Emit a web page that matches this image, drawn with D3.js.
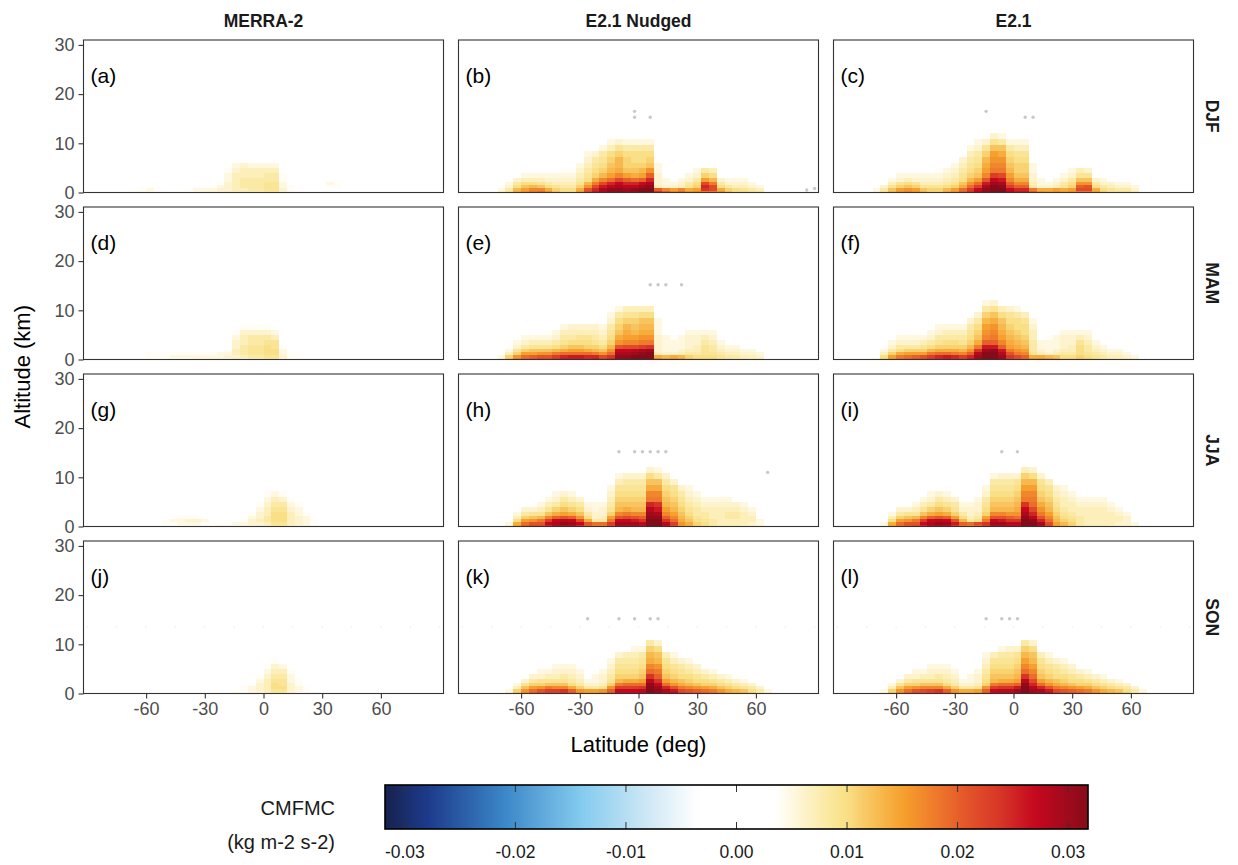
<!DOCTYPE html>
<html>
<head>
<meta charset="utf-8">
<script src="https://cdn.jsdelivr.net/npm/d3@7"></script>
<style>
  body { margin: 0; background: #fff; }
  svg { display: block; }
  text { font-family: "Liberation Sans", Arial, Helvetica, sans-serif; }
</style>
</head>
<body>
<svg id="chart" width="1238" height="865"></svg>
<script>
// ---- Facets ----
const models = ["MERRA-2", "E2.1 Nudged", "E2.1"];
const seasons = ["DJF", "MAM", "JJA", "SON"];
const panelTags = ["(a)", "(b)", "(c)", "(d)", "(e)", "(f)", "(g)", "(h)", "(i)", "(j)", "(k)", "(l)"];

// ---- Grid: 4-degree latitude bands (centres) and altitude level edges (km) ----
const latCenters = [-70, -66, -62, -58, -54, -50, -46, -42, -38, -34, -30, -26, -22, -18, -14, -10, -6, -2,
                    2, 6, 10, 14, 18, 22, 26, 30, 34, 38, 42, 46, 50, 54, 58, 62, 66];
const levelEdges = [0, 0.4, 0.9, 1.5, 2.2, 3.0, 3.9, 4.9, 6.0, 7.2, 8.4, 9.6, 10.8, 12.0];

// ---- Axis ticks ----
const latTicks = [-60, -30, 0, 30, 60];
const altTicks = [0, 10, 20, 30];
const legendTicks = [-0.03, -0.02, -0.01, 0.00, 0.01, 0.02, 0.03];

// ---- CMFMC, units of 1e-3; one column per latitude centre, values from the lowest level upward ----
const merraDJF = [
  [], [4], [4,4], [4,5], [4], [], [], [], [0,4], [4,5], [5,5], [5,5,4], [5,6,5,4], [6,6,6,6,5,5,4],
  [6,7,7,7,7,7,6,5], [7,7,8,8,8,7,7,6], [7,8,8,8,8,7,7,5], [7,8,8,8,8,7,7,5],
  [8,9,9,9,8,8,7,5], [8,9,9,9,8,8,7,5], [5,6,5,5,4,4], [4,4,4], [4], [], [], [],
  [0,0,4,5], [0,0,4,4], [], [], [], [], [], [], []
];
const nudgedDJF = [
  [6,5], [9,8,6,5], [14,13,10,8,6], [16,15,12,10,7,5], [18,17,13,10,7,5], [19,17,12,9,7,5],
  [16,14,10,8,6,5], [12,11,9,7,6,5], [10,10,8,7,6,5,4], [10,10,8,7,6,5,4], [15,14,11,9,8,7,6,5],
  [22,21,16,13,10,9,8,7,6,5], [26,25,22,18,14,11,10,9,8,6], [29,29,26,22,17,13,11,10,9,8,5],
  [31,31,28,25,19,15,13,12,11,10,7,5], [31,31,29,27,22,17,14,13,13,11,9,6],
  [30,30,28,25,20,15,12,11,11,10,8,5], [31,31,28,25,19,14,12,11,10,10,8,5],
  [32,32,30,27,20,15,13,11,10,10,8,5], [32,32,31,29,25,20,16,12,11,10,8,5],
  [24,20,7,6,6,6,5,5], [20,17,6,5,5], [17,15,6,5], [19,17,7,6,5], [16,14,9,8,6,5],
  [17,15,11,10,8,6,5], [18,24,25,22,15,11,8], [18,22,22,18,13,10,7], [16,14,10,8,6],
  [12,11,8,6,5], [10,10,7,6,5], [10,9,7,6,5], [9,8,6,5], [8,7,5], []
];
const modelDJF = [
  [5,5], [9,8,6], [13,12,9,7,5], [16,15,11,9,6,5], [17,16,12,10,7,5], [16,15,11,9,6,5],
  [13,12,9,7,6,5], [11,11,9,7,6,5], [11,11,9,7,6,5,4], [14,13,10,8,7,6,5], [16,15,11,9,8,7,6,5],
  [20,19,14,12,10,9,8,7,6], [24,23,19,16,13,11,10,9,8,7,5], [28,27,23,19,15,12,11,10,9,8,6,5],
  [31,31,29,26,21,17,15,14,13,11,9,6], [32,32,32,30,27,23,18,17,16,15,12,9,6],
  [32,32,31,29,26,22,18,17,16,14,12,8,5], [28,27,23,20,17,15,13,12,11,10,8,5],
  [26,25,20,17,14,12,11,11,10,9,7,5], [26,25,20,17,14,12,11,11,10,9,7,5],
  [20,18,8,7,6,6,5,5], [16,14,6,5,5], [15,14,6,5], [16,15,7,6,5], [15,14,9,8,6,5],
  [16,15,11,10,8,6,5], [18,22,20,16,12,9,7], [18,22,21,16,12,9,6], [15,14,10,8,6],
  [11,10,8,6,5], [9,9,7,6], [9,8,6,5], [9,8,6,5], [7,6,5], []
];

const merraMAM = [
  [], [], [4], [4,4,4], [4,4,4], [4,4,4], [4,5,4], [4,5,4], [4,5,4], [5,5,4], [5,5,4], [5,5,4],
  [5,5,5], [5,6,5,4], [6,6,7,7,6,6,5,4], [6,7,8,8,8,7,7,6,4], [7,8,9,9,9,8,8,6,4],
  [7,8,9,9,9,8,8,6,4], [8,9,10,10,10,9,8,6,4], [8,9,10,10,9,9,7,5], [5,6,5,5,4],
  [4,4,4], [4,4], [], [], [], [], [], [], [], [], [], [], [], []
];
const nudgedMAM = [
  [6,5], [12,11,7,5], [17,16,11,9,6,5], [20,19,15,11,8,6,5], [21,20,15,12,9,7,5], [22,21,16,12,9,7,5],
  [22,21,16,12,9,7,5,4], [24,23,18,13,10,8,6,5], [26,25,19,14,11,9,8,7,5], [26,26,19,15,12,10,8,7,6],
  [26,26,19,15,12,10,9,7,6], [25,25,19,14,11,10,9,7,6], [26,25,18,13,11,9,8,7,6], [23,22,16,12,10,8,7,6,5],
  [25,24,19,16,13,11,10,9,8,6,5], [31,31,29,27,21,16,14,12,11,10,8,5], [31,31,29,27,22,17,15,14,13,11,9,7],
  [32,32,30,28,22,17,15,13,12,11,9,7], [32,32,31,29,23,18,16,14,13,12,10,7], [32,32,32,30,24,18,16,14,13,12,10,7],
  [17,14,7,6,6,6,6,5,5,5], [15,13,6,5,5,5,5], [16,14,6,5,5,5,4], [15,13,7,6,5,5,5], [12,11,8,7,6,6,6,5],
  [11,10,8,7,7,6,6,5], [11,10,9,9,9,8,7,5], [11,10,9,8,8,7,6,5], [10,9,8,7,6,5], [9,8,7,6,5],
  [8,8,7,6,5], [8,7,6,5], [7,7,6,5], [7,6,5], []
];
const modelMAM = [
  [5], [11,10,7,5], [16,15,11,8,6,5], [19,18,14,10,8,6,5], [20,19,15,11,8,6,5], [21,20,15,11,8,6,5],
  [22,21,15,11,9,7,5], [24,23,18,13,10,8,6,5], [25,25,19,14,11,9,8,6,5], [26,26,19,14,11,10,8,7,5],
  [25,25,18,14,11,10,8,7,5], [23,23,17,13,11,9,8,7,5], [26,25,20,16,13,11,10,9,8,6], [30,30,28,24,18,14,12,11,10,8,6],
  [32,32,32,30,26,20,17,16,15,13,11,8,5], [32,32,32,31,26,20,18,17,16,14,12,9,6], [30,30,28,26,20,17,15,14,13,12,10,7],
  [24,24,21,18,15,14,13,12,11,10,9,6], [22,22,18,16,14,13,12,11,10,10,8,5], [20,20,17,15,13,12,11,10,10,9,7],
  [16,14,9,8,8,8,7,7,6,5], [16,14,7,6,5,5], [15,13,6,5,5,5,4], [14,12,7,6,5,5,5], [11,10,8,7,6,6,6,5],
  [11,10,8,7,7,6,6,5], [12,11,10,10,10,9,7,5], [11,10,9,8,8,7,6,5], [10,9,8,7,6,5], [8,8,7,6,5],
  [8,7,6,5], [7,7,6,5], [7,6,5], [6,5], []
];

const merraJJA = [
  [], [], [], [], [], [0,4,4], [0,4,5], [0,5,5,4], [0,5,6,4], [0,5,6,4], [0,4,5], [0,4],
  [4,4], [4,4], [4,5], [5,5,4], [5,6,6,5,4], [6,6,7,6,6,5,4], [6,7,8,8,7,7,6,5,4],
  [8,9,10,10,10,9,8,7,5], [8,9,10,10,10,9,8,6,4], [6,7,7,7,7,6,5,4], [5,6,6,6,5,5,4],
  [5,5,5,5,4], [4,4,4], [], [], [], [], [], [], [], [], [], []
];
const nudgedJJA = [
  [], [6,5], [15,14,10,7,5], [20,19,15,11,8,6], [22,21,16,12,9,6], [22,21,18,13,9,7,5],
  [25,27,23,17,12,9,7,5], [27,29,27,20,14,11,8,6,5], [28,31,28,21,15,12,10,8,6], [27,30,27,20,14,11,9,7,5],
  [25,27,22,16,12,10,8,6], [20,21,14,10,8,6,5], [18,19,8,6,6,5,5], [18,19,8,7,6,6,5],
  [22,23,18,15,11,9,8,7,6,5], [28,30,27,21,17,13,12,11,10,9,7,5], [28,30,27,22,18,14,12,11,10,9,8,6],
  [28,30,26,21,17,13,12,11,10,9,8,6], [27,28,24,20,17,13,12,11,10,9,8,6],
  [32,32,32,31,30,28,25,18,17,14,12,10,6], [32,32,32,31,29,26,24,18,17,14,12,8,5],
  [27,28,24,20,17,15,13,12,11,10,8,6], [22,23,19,17,15,13,12,11,10,9,6], [16,16,14,13,12,11,10,9,8,6],
  [14,14,12,11,10,9,8,7,6,5], [11,11,10,9,8,8,7,6,5], [10,10,9,8,8,7,6,5], [8,8,8,7,7,7,6,5],
  [7,7,7,7,7,7,6,5], [7,7,7,8,8,7,6,5], [7,7,7,8,8,7,6], [6,7,7,7,7,6,5], [6,6,7,7,6,5], [5,5,5], []
];
const modelJJA = [
  [], [5,5], [15,14,10,7,5], [19,19,15,11,8,6], [21,21,16,12,9,6], [22,21,18,13,9,7,5],
  [25,27,23,17,12,9,7,5], [27,29,27,20,14,11,8,6,5], [28,31,28,21,15,12,10,8,6], [27,30,27,20,14,11,9,7,5],
  [24,26,21,15,11,9,8,6], [19,20,13,10,8,6,5], [18,19,8,7,6,6,5], [20,22,10,8,7,6,6,5],
  [23,24,18,15,11,10,9,8,6,5], [28,30,27,21,17,13,12,11,10,9,8,5], [28,30,26,21,17,13,12,11,10,9,8,6],
  [27,28,24,20,16,13,12,11,10,9,8,6], [27,28,24,19,16,14,13,12,11,10,9,6],
  [32,32,32,31,29,27,24,18,17,15,13,11,7], [31,32,31,28,25,22,19,18,17,15,13,10,6],
  [28,29,25,21,18,16,14,12,11,10,9,6], [22,22,19,17,15,13,12,11,10,9,7], [15,15,13,12,11,10,9,8,7,6],
  [13,13,11,10,9,8,7,7,6,5], [11,11,10,9,8,7,7,6,5], [8,8,8,8,7,7,6,5], [7,7,7,7,7,7,6,5],
  [7,7,7,7,7,7,6,5], [7,7,7,7,7,7,6,5], [6,7,7,7,7,6,5], [6,6,7,7,6,5], [6,6,6,6,5], [5,5], []
];

const merraSON = [
  [], [], [], [], [], [], [], [], [], [], [], [], [], [],
  [4,4], [4,4,4], [5,5,5,4], [5,6,6,6,5,4], [6,7,7,7,7,6,5,4], [8,9,10,10,9,8,7,6,4],
  [8,9,10,9,9,8,7,5], [5,6,6,6,5,5,4], [4,5,5,4,4], [4,4,4], [4], [], [], [], [], [], [], [], [], [], []
];
const nudgedSON = [
  [], [6,5], [12,11,7,5], [17,16,12,9,6], [20,19,15,11,8,6], [22,21,16,11,9,6,5], [23,23,18,12,9,7,5],
  [23,23,17,12,9,7,6,5], [24,24,17,12,9,8,6,5], [21,20,14,10,8,7,6,5], [17,16,11,8,7,6,5], [16,15,8,6,5],
  [16,15,8,6,5,5], [17,16,9,7,6,6,5], [21,20,16,11,9,8,7,6,5], [27,27,23,18,13,11,10,9,8,6],
  [27,27,23,19,14,11,10,9,8,7], [27,27,23,19,14,11,10,9,8,7,5], [28,28,24,19,15,12,11,10,9,8,5],
  [32,32,32,31,28,24,19,17,14,13,11,8], [31,31,30,27,24,20,18,16,13,12,10,6], [29,29,25,19,15,12,11,10,9,7],
  [27,26,21,16,13,11,10,9,7,5], [23,22,18,14,12,10,9,8,6], [22,21,17,13,11,10,8,7,5], [21,20,16,12,10,9,7,6],
  [20,19,15,11,10,8,6], [19,18,14,11,9,7,5], [17,16,12,10,8,6], [15,14,11,9,7,5], [14,13,10,8,6],
  [13,12,9,7,5], [11,10,8,6], [8,8,6], [6,5]
];
const modelSON = [
  [], [5,5], [12,11,7,5], [17,16,12,9,6], [20,19,15,11,8,6], [22,21,16,11,9,6,5], [22,22,17,12,9,7,5],
  [23,23,17,12,9,7,6,5], [24,24,17,12,9,8,6,5], [21,20,14,10,8,7,6,5], [17,16,11,8,7,6,5], [15,14,8,6,5],
  [15,14,8,6,5,5], [16,15,9,7,6,6,5], [21,20,16,11,10,9,8,7,6,5], [27,27,23,18,13,12,11,10,9,7],
  [28,28,24,19,14,12,11,10,9,8,5], [28,28,24,19,14,12,11,10,9,8,6], [30,30,26,20,15,13,12,11,10,9,6],
  [32,32,32,31,28,24,19,17,15,13,11,8], [30,30,28,25,22,19,17,15,13,12,10,6], [29,29,25,19,15,12,11,10,9,7],
  [27,26,21,16,13,11,10,9,7,5], [23,22,18,14,12,10,9,8,6], [22,21,17,13,11,10,8,7,5], [21,20,16,12,10,9,7,6],
  [20,19,15,11,10,8,6], [19,18,14,11,9,7,5], [17,16,12,10,8,6], [15,14,11,9,7,5], [14,13,10,8,6],
  [13,12,9,7,5], [11,10,8,6], [8,8,6], [6,5]
];

// ---- Grey markers: [latitude, altitude km] ----
const dotsNudgedDJF = [[-2, 16.5], [-2, 15.3], [6, 15.3], [86, 0.5], [90, 0.8]];
const dotsModelDJF = [[-14, 16.5], [6, 15.3], [10, 15.3]];
const dotsNudgedMAM = [[6, 15.2], [10, 15.2], [14, 15.2], [22, 15.2]];
const dotsNudgedJJA = [[-10, 15.2], [-2, 15.2], [2, 15.2], [6, 15.2], [10, 15.2], [14, 15.2], [66, 11]];
const dotsModelJJA = [[-6, 15.2], [2, 15.2]];
const dotsNudgedSON = [[-26, 15.2], [-10, 15.2], [-2, 15.2], [6, 15.2], [10, 15.2]];
const dotsModelSON = [[-14, 15.2], [-6, 15.2], [-2, 15.2], [2, 15.2]];
const faintLats = [-90, -75, -60, -45, -30, -15, 0, 15, 30, 45, 60, 75, 90];
const faintAlt = 13.5;

const panelData = [
  [merraDJF, nudgedDJF, modelDJF],
  [merraMAM, nudgedMAM, modelMAM],
  [merraJJA, nudgedJJA, modelJJA],
  [merraSON, nudgedSON, modelSON]
];
const panelDots = [
  [[], dotsNudgedDJF, dotsModelDJF],
  [[], dotsNudgedMAM, []],
  [[], dotsNudgedJJA, dotsModelJJA],
  [[], dotsNudgedSON, dotsModelSON]
];

// ---- Layout ----
const colX = [83.5, 458.5, 833.5];
const rowY = [40, 207, 374, 541];
const panelW = 360, panelH = 152.5;

const svg = d3.select("#chart");

// Diverging colour scale for CMFMC
const colorStops = [
  [-0.032, "#17204a"], [-0.028, "#1d3a8a"], [-0.021, "#3b87c7"], [-0.014, "#84cbef"],
  [-0.008, "#cfe8f5"], [-0.0035, "#ffffff"], [0.0035, "#ffffff"], [0.008, "#fbeaa6"],
  [0.010, "#f9df85"], [0.012, "#f8c45f"], [0.015, "#f6a12d"], [0.018, "#ee7a2b"],
  [0.021, "#e3532a"], [0.024, "#d63427"], [0.027, "#c5081f"], [0.030, "#9f0a1c"], [0.032, "#840c18"]
];
const color = d3.scaleLinear()
  .domain(colorStops.map(d => d[0]))
  .range(colorStops.map(d => d[1]))
  .clamp(true);

const x = d3.scaleLinear().domain([-92, 92]);
const y = d3.scaleLinear().domain([0, 31]);
const hyphenFmt = v => d3.format(".2f")(v).replace("\u2212", "-");

rowY.forEach((py, r) => {
  colX.forEach((px, c) => {
    const xs = x.copy().range([px, px + panelW]);
    const ys = y.copy().range([py + panelH, py]);
    const g = svg.append("g");

    g.append("rect").attr("x", px).attr("y", py).attr("width", panelW).attr("height", panelH)
      .attr("fill", "#fff");

    // heat-map cells
    const cells = [];
    panelData[r][c].forEach((col, i) => {
      col.forEach((v, k) => {
        if (v > 3.5) cells.push({ lat: latCenters[i], k, v: v / 1000 });
      });
    });
    g.append("g").attr("shape-rendering", "crispEdges")
      .selectAll("rect").data(cells).join("rect")
      .attr("x", d => xs(d.lat - 2))
      .attr("width", d => xs(d.lat + 2) - xs(d.lat - 2))
      .attr("y", d => ys(levelEdges[d.k + 1]))
      .attr("height", d => ys(levelEdges[d.k]) - ys(levelEdges[d.k + 1]))
      .attr("fill", d => color(d.v));

    // faint marker row in SON panels
    if (r === 3) {
      g.append("g").selectAll("circle").data(faintLats).join("circle")
        .attr("cx", d => xs(d)).attr("cy", ys(faintAlt)).attr("r", 0.8)
        .attr("fill", "#ededed");
    }
    // grey markers
    g.append("g").selectAll("circle").data(panelDots[r][c]).join("circle")
      .attr("cx", d => xs(d[0])).attr("cy", d => ys(d[1])).attr("r", 1.7)
      .attr("fill", "#c9c9c9");

    // panel frame
    g.append("rect").attr("x", px).attr("y", py).attr("width", panelW).attr("height", panelH)
      .attr("fill", "none").attr("stroke", "#333").attr("stroke-width", 1.1);

    // panel tag
    g.append("text").attr("x", px + 7).attr("y", py + 43)
      .attr("font-size", 21).attr("fill", "#000")
      .text(panelTags[r * 3 + c]);

    // y axis on the first column
    if (c === 0) {
      const ay = g.append("g").attr("transform", `translate(${px},0)`)
        .call(d3.axisLeft(ys).tickValues(altTicks).tickSize(5).tickPadding(4).tickFormat(d3.format("d")));
      ay.select(".domain").remove();
      ay.selectAll(".tick line").attr("stroke", "#333").attr("stroke-width", 1.1);
      ay.selectAll(".tick text").attr("font-size", 18).attr("fill", "#4d4d4d")
        .attr("font-family", '"Liberation Sans", Arial, sans-serif');
    }
    // x axis on the last row
    if (r === 3) {
      const ax = g.append("g").attr("transform", `translate(0,${py + panelH})`)
        .call(d3.axisBottom(xs).tickValues(latTicks).tickSize(5).tickPadding(4)
          .tickFormat(v => String(v)));
      ax.select(".domain").remove();
      ax.selectAll(".tick line").attr("stroke", "#333").attr("stroke-width", 1.1);
      ax.selectAll(".tick text").attr("font-size", 18).attr("fill", "#4d4d4d")
        .attr("font-family", '"Liberation Sans", Arial, sans-serif');
    }
  });
});

// column headers
models.forEach((m, c) => {
  svg.append("text").attr("x", colX[c] + panelW / 2).attr("y", 27)
    .attr("text-anchor", "middle").attr("font-size", 17.5).attr("font-weight", "bold")
    .attr("fill", "#1a1a1a").text(m);
});
// row strips
seasons.forEach((s, r) => {
  const cy = rowY[r] + panelH / 2;
  svg.append("text").attr("transform", `translate(1206,${cy}) rotate(90)`)
    .attr("text-anchor", "middle").attr("font-size", 17.5).attr("font-weight", "bold")
    .attr("fill", "#1a1a1a").text(s);
});

// axis titles
svg.append("text").attr("transform", `translate(30,${(rowY[0] + rowY[3] + panelH) / 2}) rotate(-90)`)
  .attr("text-anchor", "middle").attr("font-size", 22).attr("fill", "#000").text("Altitude (km)");
svg.append("text").attr("x", colX[1] + panelW / 2).attr("y", 752)
  .attr("text-anchor", "middle").attr("font-size", 22).attr("fill", "#000").text("Latitude (deg)");

// ---- Colour bar ----
const barX0 = 385, barX1 = 1088, barY = 785, barH = 44;
const lx = d3.scaleLinear().domain([-0.0318, 0.0318]).range([barX0, barX1]);
const defs = svg.append("defs");
const grad = defs.append("linearGradient").attr("id", "cmfmcGrad")
  .attr("x1", "0%").attr("x2", "100%").attr("y1", "0%").attr("y2", "0%");
d3.range(0, 1.0001, 0.01).forEach(t => {
  const v = lx.domain()[0] + t * (lx.domain()[1] - lx.domain()[0]);
  grad.append("stop").attr("offset", `${t * 100}%`).attr("stop-color", color(v));
});
svg.append("rect").attr("x", barX0).attr("y", barY).attr("width", barX1 - barX0).attr("height", barH)
  .attr("fill", "url(#cmfmcGrad)");
legendTicks.forEach(t => {
  const tx = lx(t);
  svg.append("line").attr("x1", tx).attr("x2", tx).attr("y1", barY).attr("y2", barY + 7)
    .attr("stroke", "#333").attr("stroke-width", 1);
  svg.append("line").attr("x1", tx).attr("x2", tx).attr("y1", barY + barH - 7).attr("y2", barY + barH)
    .attr("stroke", "#333").attr("stroke-width", 1);
  svg.append("text").attr("x", tx).attr("y", barY + barH + 29)
    .attr("text-anchor", "middle").attr("font-size", 17.5).attr("fill", "#1a1a1a")
    .text(hyphenFmt(t));
});
svg.append("rect").attr("x", barX0).attr("y", barY).attr("width", barX1 - barX0).attr("height", barH)
  .attr("fill", "none").attr("stroke", "#000").attr("stroke-width", 1.6);

svg.append("text").attr("x", 335).attr("y", 815).attr("text-anchor", "end")
  .attr("font-size", 20).attr("fill", "#1a1a1a").text("CMFMC");
svg.append("text").attr("x", 335).attr("y", 849).attr("text-anchor", "end")
  .attr("font-size", 20).attr("fill", "#1a1a1a").text("(kg m-2 s-2)");
</script>
</body>
</html>
